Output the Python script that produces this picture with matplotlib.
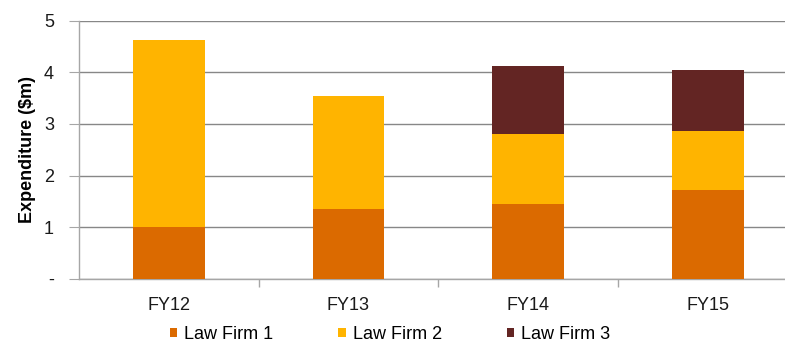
import numpy as np
import matplotlib.pyplot as plt
from matplotlib.patches import Patch
from matplotlib.ticker import FixedLocator, FuncFormatter

plt.rcParams['font.family'] = ['Liberation Sans', 'DejaVu Sans']

# --- data ($m per financial year) ---
years = ['FY12', 'FY13', 'FY14', 'FY15']
firm1 = [1.01, 1.35, 1.44, 1.71]
firm2 = [3.62, 2.19, 1.36, 1.15]
firm3 = [0.00, 0.00, 1.32, 1.18]
series_names = ['Law Firm 1', 'Law Firm 2', 'Law Firm 3']
colors = ['#DB6A00', '#FFB400', '#632523']

fig = plt.figure(figsize=(7.85, 3.45), dpi=100)
ax = fig.add_axes([79 / 785, 1 - 278.7 / 345, 1 - 79 / 785, (278.7 - 20.7) / 345])

x = np.arange(len(years))
w = 0.40
bottom = np.zeros(len(years))
for vals, c in zip([firm1, firm2, firm3], colors):
    vals = np.array(vals)
    ax.bar(x, vals, w, bottom=bottom, color=c, zorder=3)
    bottom += vals

# axes + grid
ax.set_ylim(0, 5)
ax.set_xlim(-0.5, 3.43)
ax.set_yticks(range(6))
ax.yaxis.set_major_formatter(FuncFormatter(lambda v, p: '-' if v == 0 else f'{int(v)}'))
ax.grid(axis='y', color='#878787', linewidth=1.0, zorder=0)
ax.set_axisbelow(True)
for s in ['top', 'right']:
    ax.spines[s].set_visible(False)
for s in ['left', 'bottom']:
    ax.spines[s].set_color('#a6a6a6')
    ax.spines[s].set_linewidth(1.0)
ax.tick_params(axis='y', length=7, pad=11, labelsize=13, colors='#a6a6a6', labelcolor='#1a1a1a')

ax.set_xticks(x)
ax.set_xticklabels(years)
ax.tick_params(axis='x', which='major', length=0, pad=13, labelsize=13, labelcolor='#1a1a1a')
ax.xaxis.set_minor_locator(FixedLocator([0.5, 1.5, 2.5]))
ax.tick_params(axis='x', which='minor', length=6, color='#a6a6a6', width=1.0)

ax.set_ylabel('Expenditure ($m)', fontsize=13, fontweight='bold')
ax.yaxis.set_label_coords(-0.061, 0.5)

handles = [Patch(facecolor=c, edgecolor='none') for c in colors]
fig.legend(handles, series_names, loc='center', bbox_to_anchor=(0.497, 0.03),
           ncol=3, frameon=False, fontsize=13, handlelength=0.4, handleheight=0.4,
           handletextpad=0.4, columnspacing=3.6, borderaxespad=0)

fig.savefig('out.png', dpi=100)
